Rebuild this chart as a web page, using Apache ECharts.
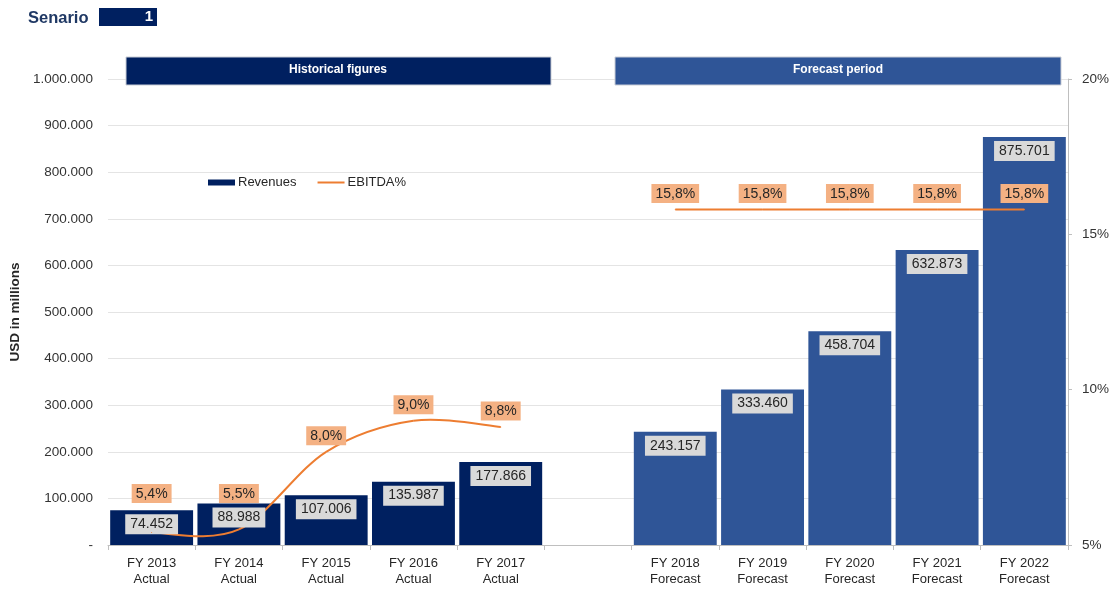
<!DOCTYPE html>
<html>
<head>
<meta charset="utf-8">
<title>Senario 1 - Revenues and EBITDA%</title>
<script src="https://cdn.jsdelivr.net/npm/echarts@6/dist/echarts.min.js"></script>
<style>
  html, body { margin: 0; padding: 0; background: #ffffff; }
  #chart { width: 1119px; height: 592px; }
</style>
</head>
<body>
<div id="chart"></div>
<script>
// Fiscal years and their period labels
const historicalYears = ['FY 2013', 'FY 2014', 'FY 2015', 'FY 2016', 'FY 2017'];
const forecastYears = ['FY 2018', 'FY 2019', 'FY 2020', 'FY 2021', 'FY 2022'];

// Revenues, USD in millions
const historicalRevenue = [74452, 88988, 107006, 135987, 177866];
const forecastRevenue = [243157, 333460, 458704, 632873, 875701];

// EBITDA margin, percent
const historicalEbitda = [5.4, 5.5, 8.0, 9.0, 8.8];
const forecastEbitda = [15.8, 15.8, 15.8, 15.8, 15.8];

// Axis ticks
const revenueTicks = [0, 100000, 200000, 300000, 400000, 500000, 600000, 700000, 800000, 900000, 1000000];
const marginTicks = [5, 10, 15, 20];

const FONT = '"Liberation Sans", Arial, sans-serif';
const NAVY = '#002060';
const BLUE = '#2F5597';
const ORANGE = '#ED7D31';

function dotted(n) {
  return String(Math.round(n)).replace(/\B(?=(\d{3})+(?!\d))/g, '.');
}

// One empty slot separates history from forecast
const categories = historicalYears.map(y => y + '\nActual')
  .concat([''])
  .concat(forecastYears.map(y => y + '\nForecast'));

const revenueValues = historicalRevenue.concat([null]).concat(forecastRevenue);

const revenueData = historicalRevenue.map(v => ({ value: v }))
  .concat([null])
  .concat(forecastRevenue.map(v => ({ value: v, itemStyle: { color: BLUE } })));

const ebitdaValues = historicalEbitda.concat([null]).concat(forecastEbitda);

// The first two margin labels sit higher to clear the revenue labels
const ebitdaData = ebitdaValues.map((v, i) => {
  if (v == null) return null;
  return i < 2 ? { value: v, label: { distance: 29 - i * 3 } } : { value: v };
});

// Smooth margin curve: Catmull-Rom segments between neighbouring years,
// broken at the empty slot
function renderMarginSegment(params, api) {
  const i = params.dataIndex;
  const n = ebitdaValues.length;
  const has = j => j >= 0 && j < n && ebitdaValues[j] != null;
  if (!has(i) || !has(i + 1)) return null;
  const pt = j => api.coord([j, ebitdaValues[j]]);
  const p1 = pt(i);
  const p2 = pt(i + 1);
  const p0 = has(i - 1) ? pt(i - 1) : p1;
  const p3 = has(i + 2) ? pt(i + 2) : p2;
  return {
    type: 'bezierCurve',
    shape: {
      x1: p1[0], y1: p1[1],
      x2: p2[0], y2: p2[1],
      cpx1: p1[0] + (p2[0] - p0[0]) / 6,
      cpy1: p1[1] + (p2[1] - p0[1]) / 6,
      cpx2: p2[0] - (p3[0] - p1[0]) / 6,
      cpy2: p2[1] - (p3[1] - p1[1]) / 6
    },
    style: { stroke: ORANGE, lineWidth: 2, fill: null }
  };
}

const revenueLabel = {
  show: true,
  position: 'insideTop',
  distance: 4,
  fontFamily: FONT,
  fontSize: 14,
  color: '#262626',
  backgroundColor: '#D9D9D9',
  padding: [3, 5, 3, 5],
  formatter: p => dotted(p.value)
};

const chart = echarts.init(document.getElementById('chart'), null, { renderer: 'canvas' });

const option = {
  backgroundColor: '#ffffff',
  animation: false,
  textStyle: { fontFamily: FONT },
  grid: { left: 108, right: 51, top: 79, bottom: 47, containLabel: false },
  legend: {
    left: 208,
    top: 176,
    padding: 0,
    itemWidth: 27,
    itemHeight: 6,
    itemGap: 21,
    textStyle: { fontFamily: FONT, fontSize: 13, color: '#262626', padding: [0, 0, 0, -2] },
    data: [
      { name: 'Revenues', icon: 'rect' },
      { name: 'EBITDA%', icon: 'path://M0,0H27V2H0Z', itemStyle: { color: ORANGE } }
    ]
  },
  xAxis: {
    type: 'category',
    data: categories,
    boundaryGap: true,
    axisLine: { show: true, lineStyle: { color: '#BFBFBF', width: 1 } },
    axisTick: { show: true, interval: 0, length: 5, lineStyle: { color: '#BFBFBF' } },
    axisLabel: {
      interval: 0,
      margin: 10,
      fontFamily: FONT,
      fontSize: 13,
      lineHeight: 16,
      color: '#262626'
    }
  },
  yAxis: [
    {
      type: 'value',
      min: revenueTicks[0],
      max: revenueTicks[revenueTicks.length - 1],
      interval: revenueTicks[1] - revenueTicks[0],
      name: 'USD in millions',
      nameLocation: 'middle',
      nameRotate: 90,
      nameGap: 78,
      nameTextStyle: { fontFamily: FONT, fontSize: 13.5, fontWeight: 'bold', color: '#262626' },
      axisLine: { show: false },
      axisTick: { show: false },
      axisLabel: {
        margin: 15,
        fontFamily: FONT,
        fontSize: 13.5,
        color: '#333333',
        formatter: v => (v === 0 ? '-' : dotted(v))
      },
      splitLine: { show: true, lineStyle: { color: '#E4E4E4', width: 1 } }
    },
    {
      type: 'value',
      min: marginTicks[0],
      max: marginTicks[marginTicks.length - 1],
      interval: marginTicks[1] - marginTicks[0],
      position: 'right',
      axisLine: { show: true, lineStyle: { color: '#BFBFBF', width: 1 } },
      axisTick: { show: true, length: 4, lineStyle: { color: '#BFBFBF' } },
      axisLabel: {
        margin: 14,
        fontFamily: FONT,
        fontSize: 13.5,
        color: '#333333',
        formatter: v => v + '%'
      },
      splitLine: { show: false }
    }
  ],
  series: [
    {
      name: 'Revenues',
      type: 'bar',
      yAxisIndex: 0,
      barCategoryGap: '5%',
      itemStyle: { color: NAVY },
      data: revenueData,
      z: 2
    },
    {
      // value boxes for the bars, kept above the margin curve
      name: 'Revenues',
      type: 'bar',
      yAxisIndex: 0,
      barCategoryGap: '5%',
      barGap: '-100%',
      itemStyle: { color: 'rgba(0,0,0,0)' },
      data: revenueValues,
      label: revenueLabel,
      silent: true,
      z: 4
    },
    {
      name: 'EBITDA% curve',
      type: 'custom',
      yAxisIndex: 1,
      renderItem: renderMarginSegment,
      data: ebitdaValues.map((v, i) => [i, v == null ? 0 : v]),
      encode: { x: 0, y: 1 },
      silent: true,
      z: 3
    },
    {
      name: 'EBITDA%',
      type: 'line',
      yAxisIndex: 1,
      connectNulls: false,
      symbol: 'circle',
      symbolSize: 1,
      showSymbol: true,
      lineStyle: { opacity: 0, width: 0 },
      itemStyle: { color: ORANGE },
      data: ebitdaData,
      label: {
        show: true,
        position: 'top',
        distance: 6,
        fontFamily: FONT,
        fontSize: 14,
        color: '#262626',
        backgroundColor: '#F4B183',
        padding: [3, 4, 2, 4],
        formatter: p => p.value.toFixed(1).replace('.', ',') + '%'
      },
      z: 5
    }
  ],
  graphic: [
    {
      type: 'text',
      x: 28,
      y: 18,
      style: { text: 'Senario', fontFamily: FONT, fontSize: 16.5, fontWeight: 'bold', fill: '#1F3864', verticalAlign: 'middle' }
    },
    {
      type: 'rect',
      shape: { x: 99, y: 8, width: 58, height: 18 },
      style: { fill: NAVY }
    },
    {
      type: 'text',
      x: 153,
      y: 17,
      style: { text: '1', fontFamily: FONT, fontSize: 15, fontWeight: 'bold', fill: '#ffffff', align: 'right', verticalAlign: 'middle' }
    },
    {
      type: 'rect',
      shape: { x: 126, y: 57, width: 425, height: 28 },
      style: { fill: NAVY, stroke: '#C9CDD6', lineWidth: 1 },
      z: 10
    },
    {
      type: 'text',
      x: 338,
      y: 70,
      style: { text: 'Historical figures', fontFamily: FONT, fontSize: 12, fontWeight: 'bold', fill: '#ffffff', align: 'center', verticalAlign: 'middle' },
      z: 11
    },
    {
      type: 'rect',
      shape: { x: 615, y: 57, width: 446, height: 28 },
      style: { fill: BLUE, stroke: '#C9CDD6', lineWidth: 1 },
      z: 10
    },
    {
      type: 'text',
      x: 838,
      y: 70,
      style: { text: 'Forecast period', fontFamily: FONT, fontSize: 12, fontWeight: 'bold', fill: '#ffffff', align: 'center', verticalAlign: 'middle' },
      z: 11
    }
  ]
};

chart.setOption(option);
</script>
</body>
</html>
